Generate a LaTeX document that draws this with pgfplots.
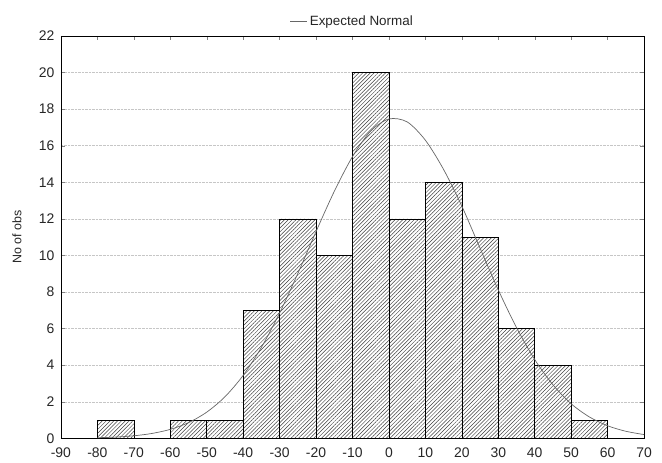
\documentclass[border=0pt]{standalone}
\usepackage{pgfplots}
\pgfplotsset{compat=1.18}
\usetikzlibrary{patterns.meta}
\usepackage{fontspec}
\setmainfont{Liberation Sans}

\begin{document}
\begin{tikzpicture}
\begin{axis}[
    scale only axis,
    width=584bp, height=403bp,
    xmin=-90, xmax=70,
    ymin=0, ymax=22,
    xtick={-90,-80,...,70},
    ytick={0,2,...,22},
    tick align=inside,
    tick pos=both,
    major tick length=4bp,
    ymajorgrids=true,
    grid style={densely dotted, gray!45},
    ylabel={No of obs},
    ylabel style={at={(axis description cs:-0.0754,0.5)}, anchor=center,
                  font=\fontsize{12.5}{13}\selectfont, black!85},
    xticklabel style={yshift=-6bp},
    yticklabel style={xshift=-3bp},
    tick label style={font=\fontsize{14}{15}\selectfont, black!85},
    /pgf/number format/assume math mode=true,
    axis line style={black, line width=0.8pt},
    legend style={draw=none, fill=none, at={(0.5,1.012)}, anchor=south,
                  font=\fontsize{13.5}{14}\selectfont, text=black!85},
    legend cell align=left,
]
\addplot[ybar interval, draw=black, fill=white,
         postaction={pattern={Lines[angle=45,distance=2.7bp,line width=0.5pt]},
                     pattern color=black!75},
         forget plot]
coordinates {
(-80,1)(-70,0)(-60,1)(-50,1)(-40,7)(-30,12)(-20,10)(-10,20)
(0,12)(10,14)(20,11)(30,6)(40,4)(50,1)(60,0)
};
\addplot[black!60, line width=0.7pt, smooth] coordinates {
(-80,0.033)(-75,0.069)(-70,0.139)(-65,0.268)(-60,0.490)(-55,0.857)
(-50,1.43)(-45,2.27)(-40,3.44)(-35,4.97)(-30,6.85)(-25,9.01)
(-20,11.3)(-15,13.5)(-10,15.4)(-5,16.8)(0,17.46)(5,17.3)
(10,16.3)(15,14.7)(20,12.7)(25,10.4)(30,8.12)(35,6.06)(40,4.31)
(45,2.93)(50,1.89)(55,1.17)(60,0.689)(65,0.387)(70,0.207)
};
\addlegendentry{Expected Normal}
\end{axis}
\path ([xshift=-61bp,yshift=-24bp]current axis.south west)
  rectangle ([xshift=18bp,yshift=36bp]current axis.north east);
\end{tikzpicture}
\end{document}
